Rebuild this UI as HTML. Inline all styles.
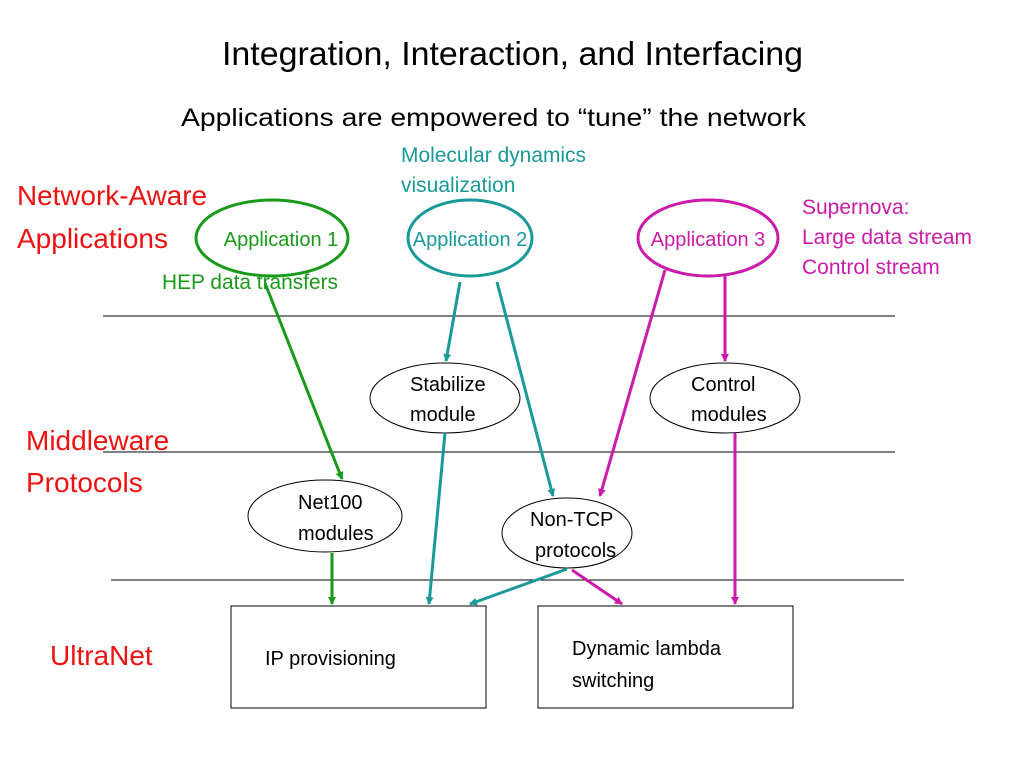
<!DOCTYPE html>
<html><head><style>
body{margin:0;width:1024px;height:768px;background:#fff;overflow:hidden;font-family:"Liberation Sans",sans-serif;}
</style></head><body>
<svg width="1024" height="768" xmlns="http://www.w3.org/2000/svg" font-family="Liberation Sans, sans-serif">
<defs>
<marker id="g" markerWidth="8" markerHeight="8" refX="7" refY="4" orient="auto" markerUnits="userSpaceOnUse"><path d="M0,0 L8,4 L0,8z" fill="#1a9a1a"/></marker>
<marker id="t" markerWidth="8" markerHeight="8" refX="7" refY="4" orient="auto" markerUnits="userSpaceOnUse"><path d="M0,0 L8,4 L0,8z" fill="#1a9999"/></marker>
<marker id="m" markerWidth="8" markerHeight="8" refX="7" refY="4" orient="auto" markerUnits="userSpaceOnUse"><path d="M0,0 L8,4 L0,8z" fill="#cc1aaa"/></marker>
</defs>
<text x="222" y="65" font-size="33" textLength="581" lengthAdjust="spacingAndGlyphs">Integration, Interaction, and Interfacing</text>
<text x="181" y="126" font-size="25" textLength="625" lengthAdjust="spacingAndGlyphs">Applications are empowered to “tune” the network</text>
<line x1="103" y1="316" x2="895" y2="316" stroke="#000" stroke-width="1"/>
<line x1="103" y1="452" x2="895" y2="452" stroke="#000" stroke-width="1"/>
<line x1="111" y1="580" x2="904" y2="580" stroke="#000" stroke-width="1"/>
<text x="17" y="205" font-size="28" fill="#ee1111" textLength="190" lengthAdjust="spacingAndGlyphs">Network-Aware</text>
<text x="17" y="248" font-size="28" fill="#ee1111">Applications</text>
<text x="26" y="450" font-size="28" fill="#ee1111">Middleware</text>
<text x="26" y="492" font-size="28" fill="#ee1111">Protocols</text>
<text x="50" y="665" font-size="28" fill="#ee1111">UltraNet</text>
<text x="401" y="162" font-size="21" fill="#1a9999" textLength="185" lengthAdjust="spacingAndGlyphs">Molecular dynamics</text>
<text x="401" y="192" font-size="21" fill="#1a9999">visualization</text>
<text x="802" y="214" font-size="21" fill="#cc1aaa">Supernova:</text>
<text x="802" y="244" font-size="21" fill="#cc1aaa" textLength="170" lengthAdjust="spacingAndGlyphs">Large data stream</text>
<text x="802" y="274" font-size="21" fill="#cc1aaa">Control stream</text>
<text x="162" y="289" font-size="21" fill="#1a9a1a" textLength="176" lengthAdjust="spacingAndGlyphs">HEP data transfers</text>
<ellipse cx="272" cy="238" rx="76" ry="38" fill="none" stroke="#1a9a1a" stroke-width="3"/>
<text x="281" y="246" font-size="20" fill="#1a9a1a" text-anchor="middle">Application 1</text>
<ellipse cx="470" cy="238" rx="62" ry="38" fill="none" stroke="#1a9999" stroke-width="3"/>
<text x="470" y="246" font-size="20" fill="#1a9999" text-anchor="middle">Application 2</text>
<ellipse cx="708" cy="238" rx="70" ry="38" fill="none" stroke="#cc1aaa" stroke-width="3"/>
<text x="708" y="246" font-size="20" fill="#cc1aaa" text-anchor="middle">Application 3</text>
<ellipse cx="445" cy="398" rx="75" ry="35" fill="#fff" stroke="#000"/>
<text x="410" y="391" font-size="20">Stabilize</text><text x="410" y="421" font-size="20">module</text>
<ellipse cx="725" cy="398" rx="75" ry="35" fill="#fff" stroke="#000"/>
<text x="691" y="391" font-size="20">Control</text><text x="691" y="421" font-size="20">modules</text>
<ellipse cx="325" cy="516" rx="77" ry="36" fill="#fff" stroke="#000"/>
<text x="298" y="509" font-size="20">Net100</text><text x="298" y="540" font-size="20">modules</text>
<ellipse cx="567" cy="533" rx="65" ry="35" fill="#fff" stroke="#000"/>
<text x="530" y="526" font-size="20">Non-TCP</text><text x="535" y="557" font-size="20">protocols</text>
<rect x="231" y="606" width="255" height="102" fill="#fff" stroke="#000"/>
<text x="265" y="665" font-size="20">IP provisioning</text>
<rect x="538" y="606" width="255" height="102" fill="#fff" stroke="#000"/>
<text x="572" y="655" font-size="20">Dynamic lambda</text><text x="572" y="687" font-size="20">switching</text>
<g stroke-width="3" fill="none">
<line x1="265" y1="283" x2="342" y2="479" stroke="#1a9a1a" marker-end="url(#g)"/>
<line x1="332" y1="553" x2="332" y2="604" stroke="#1a9a1a" marker-end="url(#g)"/>
<line x1="460" y1="282" x2="446" y2="361" stroke="#1a9999" marker-end="url(#t)"/>
<line x1="497" y1="282" x2="553" y2="496" stroke="#1a9999" marker-end="url(#t)"/>
<line x1="445" y1="433" x2="429" y2="604" stroke="#1a9999" marker-end="url(#t)"/>
<line x1="567" y1="569" x2="470" y2="604" stroke="#1a9999" marker-end="url(#t)"/>
<line x1="665" y1="270" x2="600" y2="496" stroke="#cc1aaa" marker-end="url(#m)"/>
<line x1="725" y1="276" x2="725" y2="361" stroke="#cc1aaa" marker-end="url(#m)"/>
<line x1="735" y1="433" x2="735" y2="604" stroke="#cc1aaa" marker-end="url(#m)"/>
<line x1="572" y1="570" x2="622" y2="604" stroke="#cc1aaa" marker-end="url(#m)"/>
</g>
</svg>
</body></html>
